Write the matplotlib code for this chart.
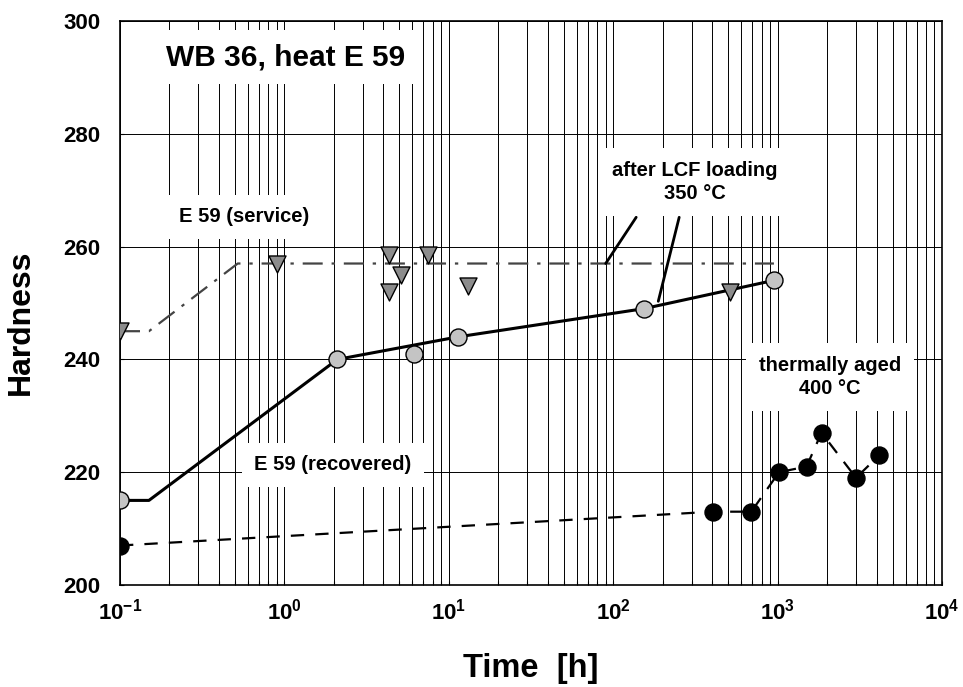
import matplotlib
matplotlib.use("Agg")
import matplotlib.pyplot as plt
from matplotlib.ticker import FixedLocator, FixedFormatter, NullFormatter

plt.rcParams['font.family'] = ['Liberation Sans', 'DejaVu Sans']
plt.rcParams['font.weight'] = 'bold'
plt.rcParams['mathtext.fontset'] = 'custom'
plt.rcParams['mathtext.rm'] = 'Liberation Sans:bold'
plt.rcParams['mathtext.bf'] = 'Liberation Sans:bold'
plt.rcParams['mathtext.default'] = 'bf'

# service condition (triangles, dash-dot line)
service_t = [0.1, 0.9, 4.3, 5.1, 4.3, 7.5, 13, 510]
service_h = [245, 257, 258.5, 255, 252, 258.5, 253, 252]
service_line_t = [0.1, 0.15, 0.52, 950]
service_line_h = [245, 245, 257, 257]

# after LCF loading (gray circles, solid line)
lcf_t = [0.1, 2.1, 6.1, 11.4, 154, 946]
lcf_h = [215, 240, 241, 244, 249, 254]
lcf_line_t = [0.1, 0.15, 2.1, 11.4, 154, 946]
lcf_line_h = [215, 215, 240, 244, 249, 254]

# thermally aged 400 °C (black circles, dashed)
aged_t = [0.1, 407, 692, 1020, 1500, 1850, 3000, 4150]
aged_h = [207, 213, 213, 220, 221, 227, 219, 223]

x_ticks = [0.1, 1, 10, 100, 1000, 10000]
x_ticklabels = ['$10^{-1}$', '$10^{0}$', '$10^{1}$', '$10^{2}$', '$10^{3}$', '$10^{4}$']
y_ticks = [200, 220, 240, 260, 280, 300]

fig = plt.figure(figsize=(9.63, 6.87), dpi=100)
ax = fig.add_axes([120 / 963, 1 - 585 / 687, 822 / 963, 564 / 687])
ax.set_xscale('log')
ax.set_xlim(0.1, 10000)
ax.set_ylim(200, 300)

# grid: every integer multiple per decade, horizontal every 20
minor = [m * 10.0 ** e for e in range(-1, 4) for m in range(2, 10)]
ax.xaxis.set_major_locator(FixedLocator(x_ticks))
ax.xaxis.set_major_formatter(FixedFormatter(x_ticklabels))
ax.xaxis.set_minor_locator(FixedLocator(minor))
ax.xaxis.set_minor_formatter(NullFormatter())
ax.yaxis.set_major_locator(FixedLocator(y_ticks))
ax.grid(True, which='major', axis='both', color='black', lw=0.7)
ax.grid(True, which='minor', axis='x', color='black', lw=0.7)
ax.set_axisbelow(True)
ax.tick_params(which='both', direction='in', length=3, width=0.8)
ax.tick_params(axis='both', labelsize=16)
ax.tick_params(axis='x', pad=10)
ax.tick_params(axis='y', pad=14)
for lab in ax.get_yticklabels():
    lab.set_fontweight('bold')
for s in ax.spines.values():
    s.set_linewidth(1.2)

ax.plot(service_line_t, service_line_h, color='#444444', lw=1.6,
        dashes=(9, 4, 1.5, 4), zorder=2)
ax.scatter(service_t, service_h, marker='v', s=150, c='#8c8c8c',
           edgecolors='black', linewidths=1.0, zorder=3, clip_on=True)

ax.plot(lcf_line_t, lcf_line_h, color='black', lw=2.2, zorder=2)
ax.scatter(lcf_t, lcf_h, marker='o', s=150, c='#c4c4c4',
           edgecolors='black', linewidths=1.0, zorder=3, clip_on=True)

ax.plot(aged_t, aged_h, color='black', lw=1.6, dashes=(6, 5), zorder=2)
ax.scatter(aged_t, aged_h, marker='o', s=150, c='black', zorder=3, clip_on=True)


def px(xp, yp):
    # pixel position in the figure -> axes fraction
    return ((xp - 120) / 822, (585 - yp) / 564)


box = dict(facecolor='white', edgecolor='none', pad=9)
ax.text(*px(286, 57), 'WB 36, heat E 59', transform=ax.transAxes, fontsize=21.5,
        fontweight='bold', ha='center', va='center',
        bbox=dict(facecolor='white', edgecolor='none', pad=9), zorder=4)
ax.text(*px(244, 217), 'E 59 (service)', transform=ax.transAxes, fontsize=14.5,
        fontweight='bold', ha='center', va='center', bbox=box, zorder=4)
ax.text(*px(695, 182), 'after LCF loading\n350 °C', transform=ax.transAxes,
        fontsize=14.5, fontweight='bold', ha='center', va='center',
        linespacing=1.3, bbox=box, zorder=4)
ax.text(*px(830, 377), 'thermally aged\n400 °C', transform=ax.transAxes,
        fontsize=14.5, fontweight='bold', ha='center', va='center',
        linespacing=1.3, bbox=box, zorder=4)
ax.text(*px(333, 465), 'E 59 (recovered)', transform=ax.transAxes, fontsize=14.5,
        fontweight='bold', ha='center', va='center', bbox=box, zorder=4)

# leader lines from the LCF label
ax.annotate('', xy=(90, 257), xytext=(138, 265.2),
            arrowprops=dict(arrowstyle='-', color='black', lw=2, shrinkA=0, shrinkB=0))
ax.annotate('', xy=(188, 250.3), xytext=(252, 265.2),
            arrowprops=dict(arrowstyle='-', color='black', lw=2, shrinkA=0, shrinkB=0))

ax.set_ylabel('Hardness', fontsize=23, fontweight='bold')
ax.set_xlabel('Time  [h]', fontsize=23.5, fontweight='bold')
ax.yaxis.set_label_coords(-0.102, 0.466)
ax.xaxis.set_label_coords(0.5, -0.12)

fig.savefig('out.png', dpi=100)
